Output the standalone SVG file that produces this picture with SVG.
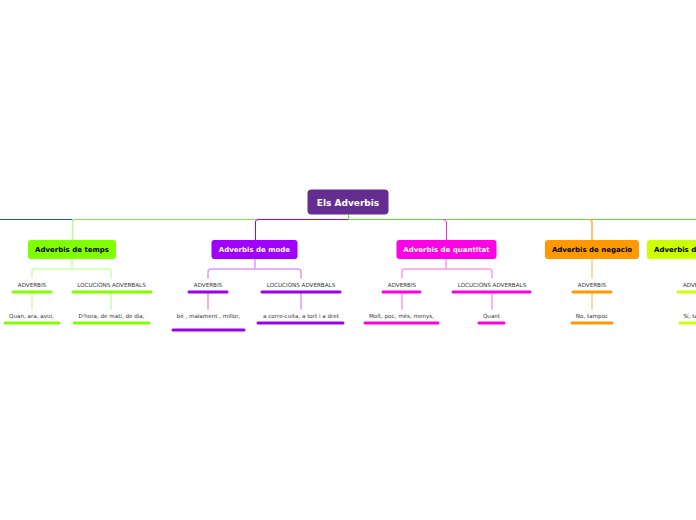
<svg xmlns="http://www.w3.org/2000/svg" width="696" height="520" viewBox="0 0 696 520">
<style>
.n1{font-family:"DejaVu Sans",Verdana,sans-serif;font-size:7px;font-weight:bold;text-anchor:middle}
.root{font-family:"DejaVu Sans",Verdana,sans-serif;font-size:9px;font-weight:bold;text-anchor:middle;fill:#fff}
.t{font-family:"DejaVu Sans",Verdana,sans-serif;font-size:5.6px;text-anchor:middle;fill:#333}
.bar{stroke-width:3;stroke-linecap:round;fill:none}
.c{fill:none;stroke-linecap:round;stroke-linejoin:round}
</style>
<rect width="696" height="520" fill="#fff"/>
<g id="connectors">
  <path class="c" d="M0 219.5 H72" stroke="#2255cc" stroke-width="1"/>
  <path class="c" d="M348.5 215 V219.5 H75 Q72.5 219.5 72.5 222 V240" stroke="#80e838" stroke-width="1"/>
  <path class="c" d="M72.5 222 V240" stroke="#bbff88" stroke-width="1.5"/>
  <path class="c" d="M348 219.5 H258 Q255.5 219.5 255.5 222 V240" stroke="#9900ff" stroke-width="1"/>
  <path class="c" d="M348.5 215 V219.5 H696" stroke="#5fdf2a" stroke-width="1"/>
  <path class="c" d="M443 219.5 Q446.5 219.5 446.5 222 V240" stroke="#ff33dd" stroke-width="1"/>
  <path class="c" d="M589 219.5 Q592 219.5 592 222 V240" stroke="#ffb040" stroke-width="1.5"/>
  <!-- temps -->
  <path class="c" d="M72 259 V269 M32 278 V272 Q32 269 35 269 H108 Q111 269 111 272 V278" stroke="#ccffaa" stroke-width="1.5"/>
  <path class="c" d="M32 293 V309 M111 293 V309" stroke="#ccffaa" stroke-width="1.5"/>
  <!-- mode -->
  <path class="c" d="M255 259 V269 M208 278 V272 Q208 269 211 269 H298 Q301 269 301 272 V278" stroke="#dd99ff" stroke-width="1.5"/>
  <path class="c" d="M208 293 V309 M301 293 V309" stroke="#dd99ff" stroke-width="1.5"/>
  <!-- quantitat -->
  <path class="c" d="M446 259 V269 M402 278 V272 Q402 269 405 269 H489 Q492 269 492 272 V278" stroke="#ff99ee" stroke-width="1.5"/>
  <path class="c" d="M402 293 V309 M492 293 V309" stroke="#ff99ee" stroke-width="1.5"/>
  <!-- negacio -->
  <path class="c" d="M592 259 V278 M592 293 V309" stroke="#ffcc88" stroke-width="1.5"/>
  <!-- afirmacio -->
  <path class="c" d="M697 259 V278 M697 293 V309" stroke="#eeff88" stroke-width="1.5"/>
</g>
<g id="root">
  <rect x="307.5" y="189.5" width="81" height="25" rx="4" fill="#662d91"/>
  <text class="root" x="348" y="205.5">Els Adverbis</text>
</g>
<g id="temps">
  <rect x="28" y="240" width="88" height="19" rx="3" fill="#80ff00"/>
  <text class="n1" x="72" y="252" fill="#000">Adverbis de temps</text>
</g>
<g id="temps-adv">
  <text class="t" x="32" y="287">ADVERBIS</text>
  <path class="bar" d="M13 292 H51" stroke="#80ff00"/>
</g>
<g id="temps-loc">
  <text class="t" x="111.5" y="287">LOCUCIONS ADVERBALS</text>
  <path class="bar" d="M73 292 H151" stroke="#80ff00"/>
</g>
<g id="temps-adv-ex">
  <text class="t" x="31.5" y="318">Quan, ara, avui,</text>
  <path class="bar" d="M5 323 H59" stroke="#80ff00"/>
</g>
<g id="temps-loc-ex">
  <text class="t" x="111.5" y="318">D'hora, de matí, de dia,</text>
  <path class="bar" d="M74 323 H149" stroke="#80ff00"/>
</g>
<g id="mode">
  <rect x="211.5" y="240" width="86" height="19" rx="3" fill="#a000ff"/>
  <text class="n1" x="254.5" y="252" fill="#fff">Adverbis de mode</text>
</g>
<g id="mode-adv">
  <text class="t" x="208" y="287">ADVERBIS</text>
  <path class="bar" d="M189 292 H227" stroke="#9900ee"/>
</g>
<g id="mode-loc">
  <text class="t" x="301" y="287">LOCUCIONS ADVERBALS</text>
  <path class="bar" d="M262 292 H340" stroke="#9900ee"/>
</g>
<g id="mode-adv-ex">
  <text class="t" x="208.5" y="318">bé , malament , millor,</text>
  <path class="bar" d="M173 330 H244" stroke="#9900ee"/>
</g>
<g id="mode-loc-ex">
  <text class="t" x="301" y="318">a corre-cuita, a tort i a dret</text>
  <path class="bar" d="M258 323 H343" stroke="#9900ee"/>
</g>
<g id="quantitat">
  <rect x="396.5" y="240" width="100" height="19" rx="3" fill="#ff00e6"/>
  <text class="n1" x="446.5" y="252" fill="#fff">Adverbis de quantitat</text>
</g>
<g id="quant-adv">
  <text class="t" x="402" y="287">ADVERBIS</text>
  <path class="bar" d="M383 292 H420" stroke="#ff00dd"/>
</g>
<g id="quant-loc">
  <text class="t" x="492" y="287">LOCUCIONS ADVERBALS</text>
  <path class="bar" d="M453 292 H530" stroke="#ff00dd"/>
</g>
<g id="quant-adv-ex">
  <text class="t" x="401.5" y="318">Molt, poc, més, menys,</text>
  <path class="bar" d="M365 323 H438" stroke="#ff00dd"/>
</g>
<g id="quant-loc-ex">
  <text class="t" x="491.5" y="318">Quant</text>
  <path class="bar" d="M479 323 H504" stroke="#ff00dd"/>
</g>
<g id="negacio">
  <rect x="545" y="240" width="94" height="19" rx="3" fill="#ff9900"/>
  <text class="n1" x="592" y="252" fill="#000">Adverbis de negacio</text>
</g>
<g id="neg-adv">
  <text class="t" x="592" y="287">ADVERBIS</text>
  <path class="bar" d="M573 292 H611" stroke="#ff9900"/>
</g>
<g id="neg-adv-ex">
  <text class="t" x="592" y="318">No, tampoc</text>
  <path class="bar" d="M572 323 H612" stroke="#ff9900"/>
</g>
<g id="afirmacio">
  <rect x="647" y="240" width="100" height="19" rx="3" fill="#ccff00"/>
  <text class="n1" x="654" y="252" fill="#000" style="text-anchor:start">Adverbis d'afirmació</text>
</g>
<g id="afi-adv">
  <text class="t" x="683" y="287" style="text-anchor:start">ADVERBIS</text>
  <path class="bar" d="M678 292 H716" stroke="#ccff00"/>
</g>
<g id="afi-adv-ex">
  <text class="t" x="683.5" y="318" style="text-anchor:start">Sí, també</text>
  <path class="bar" d="M680 323 H716" stroke="#ccff00"/>
</g>
</svg>
